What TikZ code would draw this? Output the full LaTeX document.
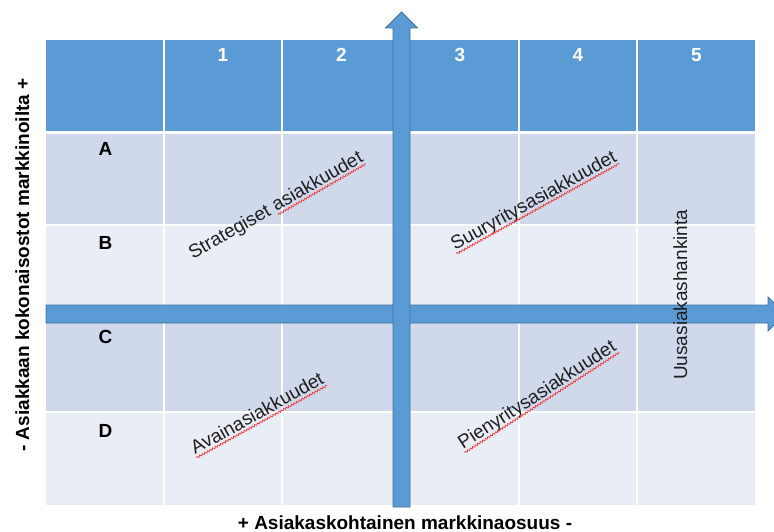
\documentclass[tikz,border=0pt]{standalone}
\usepackage{fontspec}
\setmainfont{Liberation Sans}
\usetikzlibrary{decorations.pathmorphing,calc}
\definecolor{hdrblue}{HTML}{5B9BD5}
\definecolor{banddark}{HTML}{D0D9EC}
\definecolor{bandlight}{HTML}{E9EDF5}
\definecolor{arrowedge}{HTML}{41719C}
\definecolor{spellred}{HTML}{F03A3A}
\begin{document}
\begin{tikzpicture}[x=1pt,y=-1pt,
  txt/.style={font=\fontsize{19}{22}\selectfont, text=black!88, inner sep=0pt, anchor=base west},
  boldtxt/.style={font=\fontsize{19}{22}\selectfont\bfseries, inner sep=0pt, anchor=base},
  hdrnum/.style={boldtxt, text=white},
  gridline/.style={white, line width=1.3pt},
  bigarrow/.style={fill=hdrblue, draw=arrowedge, line width=0.9pt, line join=miter},
  squig/.style={draw=spellred, line width=0.75pt, decorate,
    decoration={snake, amplitude=0.9pt, segment length=3pt}}]
\useasboundingbox (0,0) rectangle (774,532);
\clip (0,0) rectangle (774,532);

% table body: header row and banded rows
\fill[hdrblue]   (46,40)    rectangle (755,132.5);
\fill[banddark]  (46,132.5) rectangle (755,225);
\fill[bandlight] (46,225)   rectangle (755,318);
\fill[banddark]  (46,318)   rectangle (755,412);
\fill[bandlight] (46,412)   rectangle (755,505);

% white cell separators
\foreach \x in {164,282,400.5,519,637}
  \draw[gridline] (\x,40) -- (\x,505);
\foreach \y in {225,318,412}
  \draw[gridline] (46,\y) -- (755,\y);
\draw[white, line width=3pt] (46,132.5) -- (755,132.5);

% column numbers
\node[hdrnum] (c1) at (223,62)   {1};
\node[hdrnum] (c2) at (341.5,62) {2};
\node[hdrnum] (c3) at (460,62)   {3};
\node[hdrnum] (c4) at (578,62)   {4};
\node[hdrnum] (c5) at (696.5,62) {5};

% row letters
\node[boldtxt] (rA) at (105.5,156) {A};
\node[boldtxt] (rB) at (105.5,249) {B};
\node[boldtxt] (rC) at (105.5,343) {C};
\node[boldtxt] (rD) at (105.5,437) {D};

% horizontal axis arrow
\draw[bigarrow] (46,305) -- (768,305) -- (768,297) -- (785,314)
  -- (768,331) -- (768,323) -- (46,323) -- cycle;
% vertical axis arrow
\draw[bigarrow] (393,507) -- (393,28) -- (385.5,28) -- (401.5,12)
  -- (417.5,28) -- (410,28) -- (410,507) -- cycle;

% quadrant labels
\node[txt, rotate=30] (strat) at (193,260) {Strategiset asiakkuudet};
\node[txt, rotate=29] (suur)  at (455,251) {Suuryritysasiakkuudet};
\node[txt, rotate=29] (avain) at (195,455) {Avainasiakkuudet};
\node[txt, rotate=33] (pien)  at (463,450) {Pienyritysasiakkuudet};
\node[txt, rotate=90] (uusi)  at (687,380) {Uusasiakashankinta};

% spell-check underlines below the words
\coordinate (stratmid) at ($(strat.base west)!0.4866!(strat.base east)$);
\draw[squig] ($(stratmid)!3.2pt!-90:(strat.base east)$)
          -- ($(strat.base east)!3.2pt!90:(stratmid)$);
\foreach \w in {suur,avain,pien}
  \draw[squig] ($(\w.base west)!3.2pt!-90:(\w.base east)$)
            -- ($(\w.base east)!3.2pt!90:(\w.base west)$);

% axis titles
\node[boldtxt, rotate=90] (yaxis) at (29,265)
  {- Asiakkaan kokonaisostot markkinoilta +};
\node[boldtxt] (xaxis) at (405,529)
  {+ Asiakaskohtainen markkinaosuus -};
\end{tikzpicture}
\end{document}
